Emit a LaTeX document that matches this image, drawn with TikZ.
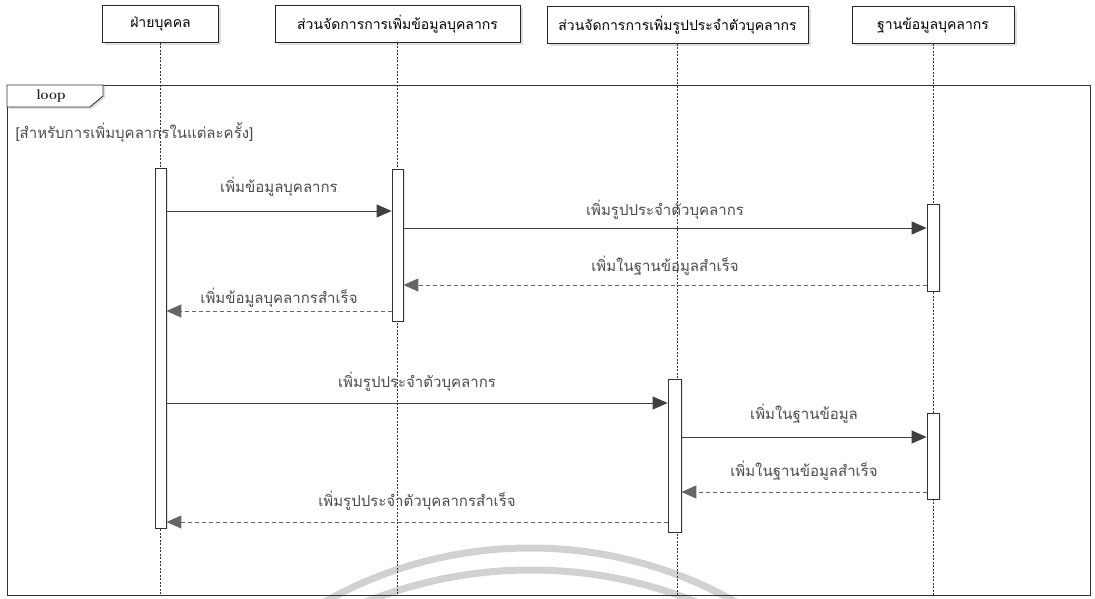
\documentclass[tikz,border=0pt]{standalone}
\usepackage{fontspec}
\newfontfamily\thaifont[Script=Thai]{Loma}
\usetikzlibrary{arrows.meta,shadows}
\begin{document}
\begin{tikzpicture}[x=1pt,y=-1pt,
  head/.style={draw=black!85,fill=white,line width=0.9pt,minimum height=37pt,inner sep=0pt,
    font=\thaifont\fontsize{14}{16}\selectfont,
    drop shadow={shadow xshift=2.5pt,shadow yshift=-2.5pt,opacity=0.25}},
  act/.style={draw=black!80,fill=white,line width=0.8pt,minimum width=11pt,inner sep=0pt,anchor=north,
    drop shadow={shadow xshift=2pt,shadow yshift=-1pt,opacity=0.2}},
  life/.style={black!80,line width=0.8pt,dash pattern=on 2pt off 1.5pt},
  call/.style={black!75,line width=1pt,-{Triangle[length=15pt,width=13pt]}},
  reply/.style={black!60,line width=1pt,dash pattern=on 4pt off 3pt,-{Triangle[length=15pt,width=13pt]}},
  msg/.style={font=\thaifont\fontsize{15}{17}\selectfont,text=black!70}]
\useasboundingbox[fill=white] (0,0) rectangle (1095,599);
\begin{scope}
\clip (0,0) rectangle (1095,599);
\draw[black!18,line width=7pt] (530,966) circle[radius=418];
\draw[black!18,line width=7pt] (531,1011) circle[radius=441];
\end{scope}
\draw[black!80,line width=0.9pt] (7,85) rectangle (1090,595);
\draw[black!80,line width=0.9pt,fill=white,drop shadow={shadow xshift=2pt,shadow yshift=-2pt,opacity=0.25}]
  (7,85) -- (103,85) -- (103,96) -- (90,107) -- (7,107) -- cycle;
\node[font=\bfseries\fontsize{14}{16}\selectfont,text=black!85] (looptab) at (51,96) {loop};
\node[msg,anchor=west] (guard) at (12,133) {[สำหรับการเพิ่มบุคลากรในแต่ละครั้ง]};
\node[head,minimum width=116pt] (h1) at (160.5,24) {ฝ่ายบุคคล};
\node[head,minimum width=245pt] (h2) at (397.5,24) {ส่วนจัดการการเพิ่มข้อมูลบุคลากร};
\node[head,minimum width=261pt] (h3) at (677.5,25) {ส่วนจัดการการเพิ่มรูปประจำตัวบุคลากร};
\node[head,minimum width=162pt] (h4) at (933,25) {ฐานข้อมูลบุคลากร};
\draw[life] (h1.south) -- (h1.south |- 0,595);
\draw[life] (h2.south) -- (h2.south |- 0,595);
\draw[life] (h3.south) -- (h3.south |- 0,595);
\draw[life] (h4.south) -- (h4.south |- 0,595);
\node[act,minimum height=360pt] (a1) at (160.5,168) {};
\node[act,minimum height=152pt] (a2) at (397.5,169) {};
\node[act,minimum height=87pt,minimum width=12pt] (a4) at (933,204) {};
\node[act,minimum height=153pt,minimum width=13pt] (a3) at (674.5,379) {};
\node[act,minimum height=86pt,minimum width=12pt] (a5) at (933,413) {};
\draw[call] (a1.east |- 0,211) -- node[msg,midway,yshift=24pt] {เพิ่มข้อมูลบุคลากร} (a2.west |- 0,211);
\draw[call] (a2.east |- 0,228) -- node[msg,midway,yshift=18pt] {เพิ่มรูปประจำตัวบุคลากร} (a4.west |- 0,228);
\draw[reply] (a4.west |- 0,285) -- node[msg,midway,yshift=19pt] {เพิ่มในฐานข้อมูลสำเร็จ} (a2.east |- 0,285);
\draw[reply] (a2.west |- 0,311) -- node[msg,midway,yshift=13pt] {เพิ่มข้อมูลบุคลากรสำเร็จ} (a1.east |- 0,311);
\draw[call] (a1.east |- 0,403) -- node[msg,midway,yshift=21pt] {เพิ่มรูปประจำตัวบุคลากร} (a3.west |- 0,403);
\draw[call] (a3.east |- 0,437) -- node[msg,midway,yshift=23pt] {เพิ่มในฐานข้อมูล} (a5.west |- 0,437);
\draw[reply] (a5.west |- 0,492) -- node[msg,midway,yshift=21pt] {เพิ่มในฐานข้อมูลสำเร็จ} (a3.east |- 0,492);
\draw[reply] (a3.west |- 0,522) -- node[msg,midway,yshift=21pt] {เพิ่มรูปประจำตัวบุคลากรสำเร็จ} (a1.east |- 0,522);
\end{tikzpicture}
\end{document}
